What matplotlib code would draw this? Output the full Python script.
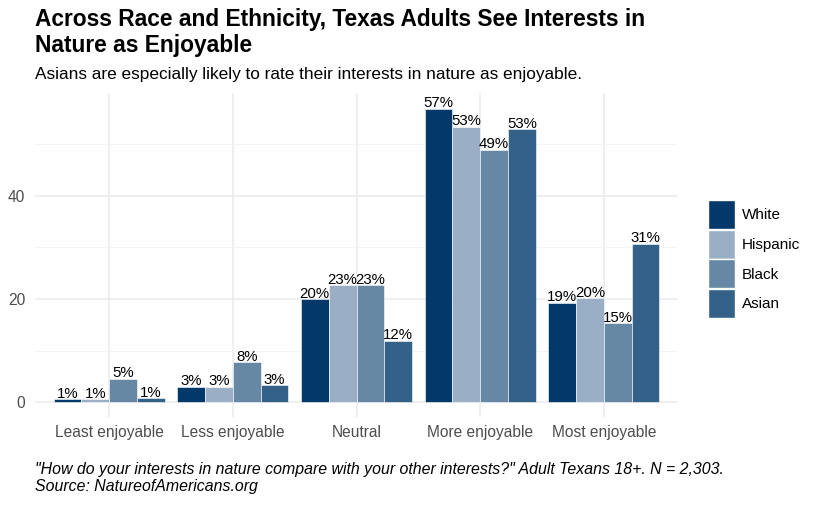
import numpy as np
import matplotlib
matplotlib.use("Agg")
import matplotlib.pyplot as plt
from matplotlib.patches import Patch

plt.rcParams['font.family'] = ['Liberation Sans', 'DejaVu Sans']

categories = ["Least enjoyable", "Less enjoyable", "Neutral", "More enjoyable", "Most enjoyable"]
groups = ["White", "Hispanic", "Black", "Asian"]
white = [0.6, 3.0, 19.9, 56.8, 19.3]
hispanic = [0.6, 3.0, 22.6, 53.3, 20.1]
black = [4.6, 7.8, 22.7, 48.9, 15.3]
asian = [0.8, 3.3, 11.9, 52.8, 30.7]
colors = ["#02386a", "#9aafc5", "#6688a5", "#346187"]

title = "Across Race and Ethnicity, Texas Adults See Interests in\nNature as Enjoyable"
subtitle = "Asians are especially likely to rate their interests in nature as enjoyable."
caption = ('"How do your interests in nature compare with your other interests?" Adult Texans 18+. N = 2,303.\n'
           'Source: NatureofAmericans.org')

fig = plt.figure(figsize=(8.2, 5.05), dpi=100)
ax = fig.add_axes([35 / 820, 1 - 417 / 505, (678 - 35) / 820, (417 - 93) / 505])

x = np.arange(1, len(categories) + 1)
width = 0.9 / len(groups)
series = [white, hispanic, black, asian]
for i, (vals, col) in enumerate(zip(series, colors)):
    pos = x - 0.45 + width * (i + 0.5)
    ax.bar(pos, vals, width=width, color=col, edgecolor="white", linewidth=0.4, zorder=3)
    for p, v in zip(pos, vals):
        ax.text(p, v - 0.3, f"{round(v + 1e-9):.0f}%", ha="center", va="bottom",
                fontsize=10.8, color="black", zorder=4)

ax.set_xlim(0.4, 5.6)
ax.set_ylim(-2.85, 59.85)
ax.set_xticks(x)
ax.set_xticklabels(categories, fontsize=11.2, color="#4d4d4d")
ax.set_yticks([0, 20, 40])
ax.set_yticks([10, 30, 50], minor=True)
ax.tick_params(axis="y", labelsize=11.2, labelcolor="#4d4d4d", length=0, pad=7)
ax.tick_params(axis="x", length=0, pad=6)
ax.tick_params(which="minor", length=0)
ax.grid(True, which="major", color="#ebebeb", linewidth=1.1, zorder=0)
ax.grid(True, which="minor", axis="y", color="#f3f3f3", linewidth=0.6, zorder=0)
for s in ax.spines.values():
    s.set_visible(False)

handles = [Patch(facecolor=c, edgecolor="white", label=g) for g, c in zip(groups, colors)]
fig.legend(handles=handles, loc="center left", bbox_to_anchor=(708 / 820, 1 - 259 / 505),
           frameon=False, fontsize=11, handlelength=1.8, handleheight=2.55,
           handletextpad=0.4, labelspacing=0.05, borderaxespad=0, borderpad=0)

fig.text(35 / 820, 1 - 8 / 505, title, fontsize=16.4, fontweight="bold", va="top", ha="left",
         linespacing=1.15)
fig.text(35 / 820, 1 - 67 / 505, subtitle, fontsize=12.4, va="top", ha="left")
fig.text(35 / 820, 1 - 462 / 505, caption, fontsize=11.4, style="italic", va="top", ha="left",
         linespacing=1.2)

fig.savefig("out.png", dpi=100)
